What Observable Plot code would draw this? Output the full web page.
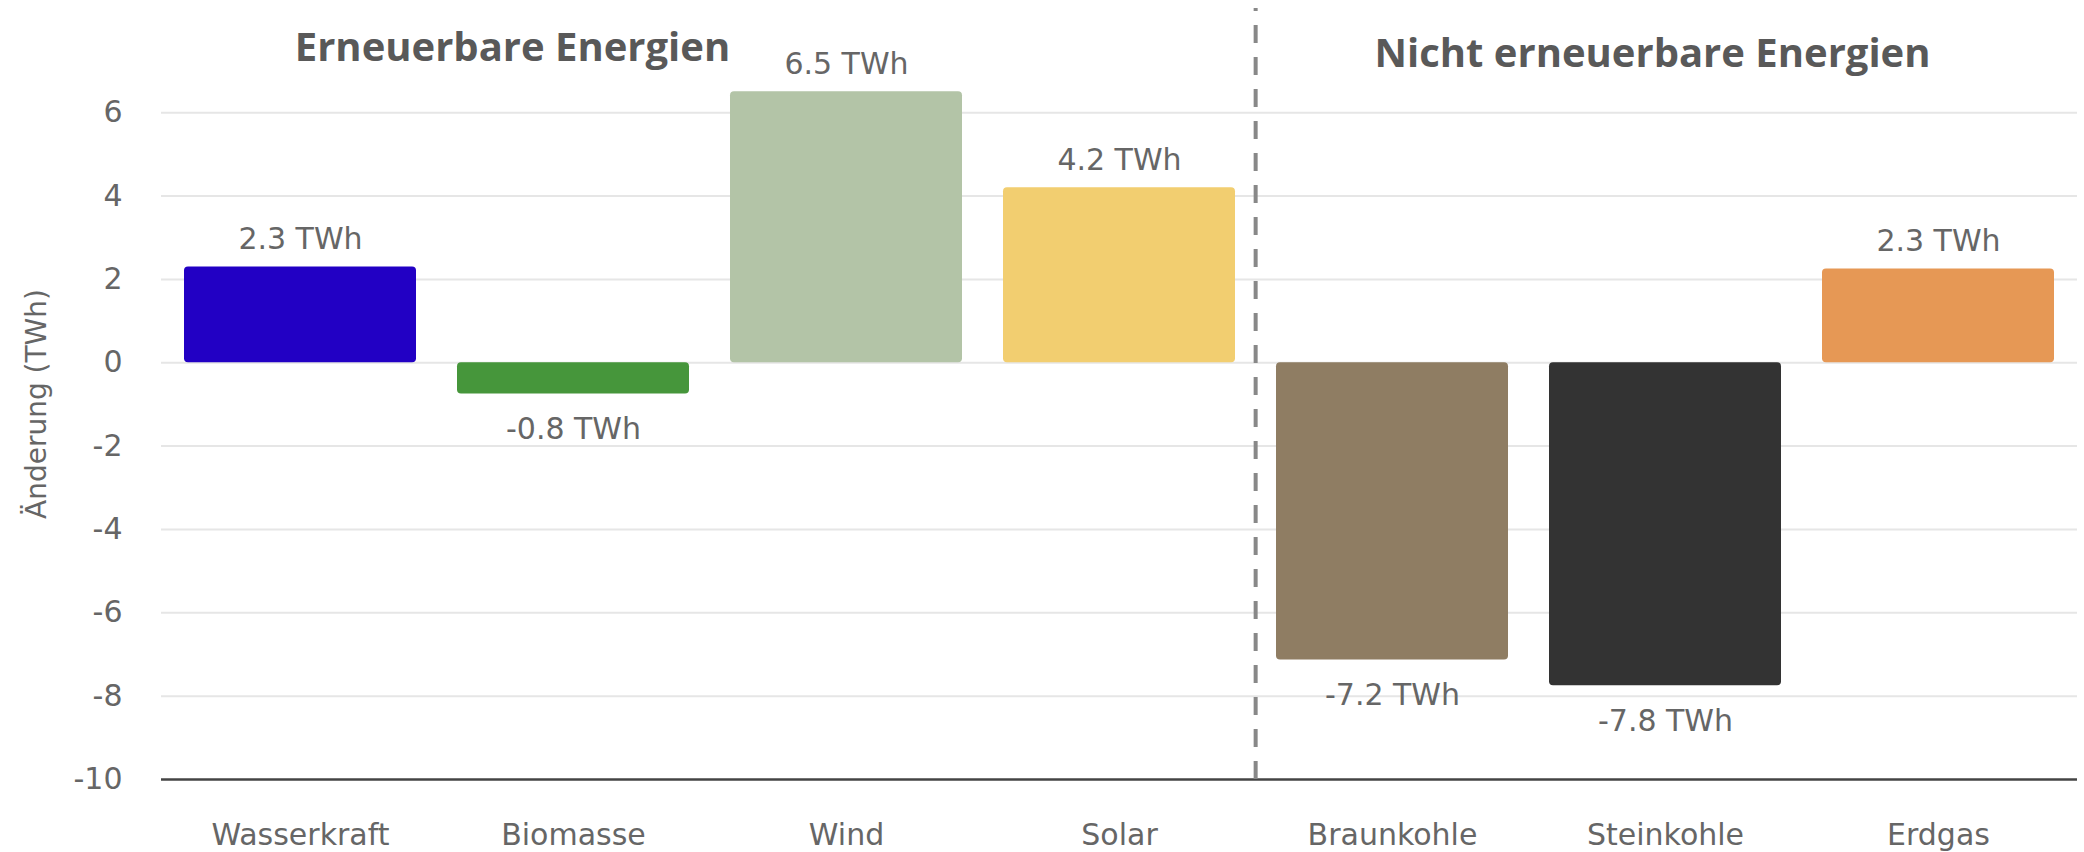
<!DOCTYPE html>
<html>
<head>
<meta charset="utf-8">
<script src="https://cdn.jsdelivr.net/npm/d3@7"></script>
<script src="https://cdn.jsdelivr.net/npm/@observablehq/plot@0.6"></script>
<style>
  html, body { margin: 0; padding: 0; background: #fff; }
  #chart svg { display: block; }
</style>
</head>
<body>
<div id="chart"></div>
<script>
// ---- data ----
const categories = ["Wasserkraft", "Biomasse", "Wind", "Solar", "Braunkohle", "Steinkohle", "Erdgas"];
const values = [2.3, -0.75, 6.5, 4.2, -7.13, -7.75, 2.25];
const valueLabels = ["2.3 TWh", "-0.8 TWh", "6.5 TWh", "4.2 TWh", "-7.2 TWh", "-7.8 TWh", "2.3 TWh"];
const barColors = ["#2200c4", "#46963b", "#b3c4a7", "#f2ce70", "#8f7d63", "#333333", "#e69855"];
const yTicks = [-10, -8, -6, -4, -2, 0, 2, 4, 6];
const groupTitles = ["Erneuerbare Energien", "Nicht erneuerbare Energien"];
const groupAnchors = ["Biomasse", "Steinkohle"];
const dividerBefore = ["Braunkohle"];
const yLabel = "Änderung (TWh)";

const rows = categories.map((c, i) => ({cat: c, value: values[i], label: valueLabels[i], color: barColors[i]}));

// ---- layout ----
const W = 2084, H = 852;
const mL = 161, mR = 7, mT = 8, mB = 73;
const padIn = 0.152, padOut = 0.076;
const yTop = 8.5;
const step = (W - mL - mR) / (categories.length - padIn + 2 * padOut);
const txt = "#666666";
const font = "'DejaVu Sans', Verdana, sans-serif";
const titleFont = "'Open Sans', 'Noto Sans', sans-serif";

const chart = Plot.plot({
  width: W,
  height: H,
  marginLeft: mL,
  marginRight: mR,
  marginTop: mT,
  marginBottom: mB,
  style: {fontFamily: font, fontSize: "30px", color: txt, background: "#fff"},
  x: {domain: categories, paddingInner: padIn, paddingOuter: padOut, label: null},
  y: {domain: [-10, yTop], label: null},
  marks: [
    Plot.ruleY(yTicks.filter(t => t > -10), {stroke: "#e6e6e6", strokeWidth: 2}),
    Plot.barY(rows, {x: "cat", y: "value", fill: "color", rx: 4}),
    Plot.ruleY([-10], {stroke: "#444444", strokeWidth: 2.5}),
    Plot.ruleX(dividerBefore, {x: d => d, y1: -10, y2: yTop, dx: -step / 2, stroke: "#888888", strokeWidth: 4, strokeDasharray: "18,14"}),
    Plot.text(rows.filter(d => d.value >= 0), {x: "cat", y: "value", text: "label", lineAnchor: "bottom", dy: -18, fill: txt, fontSize: 30, fontFamily: font}),
    Plot.text(rows.filter(d => d.value < 0), {x: "cat", y: "value", text: "label", lineAnchor: "top", dy: 24, fill: txt, fontSize: 30, fontFamily: font}),
    Plot.text([groupTitles[0]], {x: () => groupAnchors[0], frameAnchor: "top", textAnchor: "middle", lineAnchor: "bottom", dx: -61, dy: 52, fill: "#595959", fontSize: 40, fontWeight: "bold", fontFamily: titleFont}),
    Plot.text([groupTitles[1]], {x: () => groupAnchors[1], frameAnchor: "top", textAnchor: "middle", lineAnchor: "bottom", dx: -13, dy: 58, fill: "#595959", fontSize: 40, fontWeight: "bold", fontFamily: titleFont}),
    Plot.text([yLabel], {frameAnchor: "left", textAnchor: "middle", rotate: -90, lineAnchor: "middle", dx: -124, dy: 10, fill: txt, fontSize: 28, fontFamily: font}),
    Plot.axisY(yTicks, {tickSize: 0, tickPadding: 39, tickFormat: d => String(d), fontSize: 30, label: null}),
    Plot.axisX({tickSize: 0, tickPadding: 44, fontSize: 30, label: null})
  ]
});

document.getElementById("chart").appendChild(chart);
</script>
</body>
</html>
